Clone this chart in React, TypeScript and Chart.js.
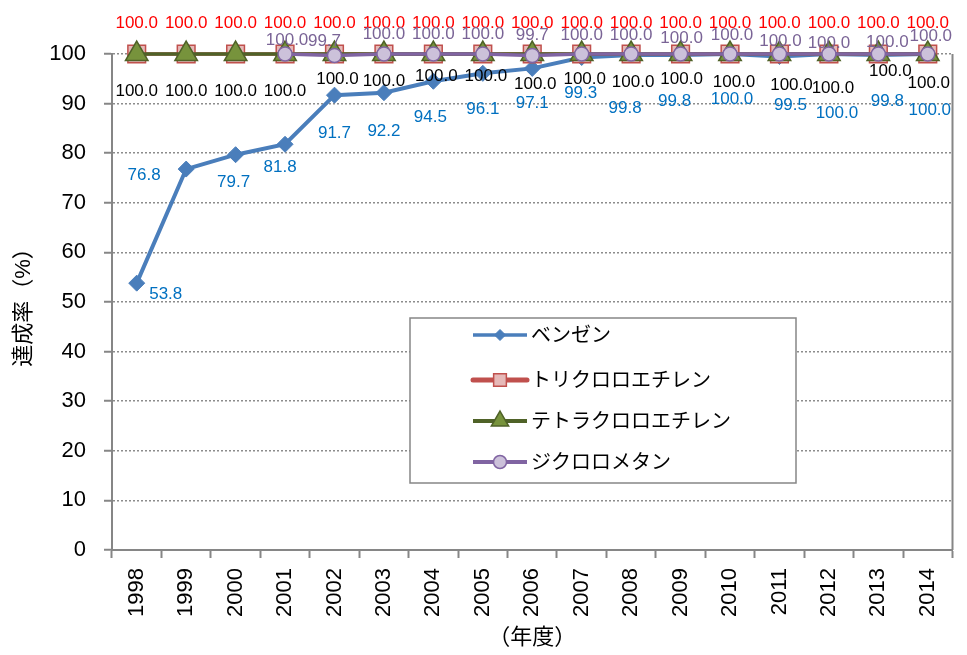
import React, { useEffect, useRef } from 'react';
import { Chart, registerables } from 'chart.js';
import { drawPoint } from 'chart.js/helpers';

Chart.register(...registerables);

const FONT = '"Liberation Sans", "Noto Sans CJK JP", sans-serif';

// ---- data ----
const years = ['1998', '1999', '2000', '2001', '2002', '2003', '2004', '2005', '2006', '2007', '2008', '2009', '2010', '2011', '2012', '2013', '2014'];
const seriesNames = ['ベンゼン', 'トリクロロエチレン', 'テトラクロロエチレン', 'ジクロロメタン'];
const benzene = [53.8, 76.8, 79.7, 81.8, 91.7, 92.2, 94.5, 96.1, 97.1, 99.3, 99.8, 99.8, 100.0, 99.5, 100.0, 99.8, 100.0];
const trichloroethylene = [100.0, 100.0, 100.0, 100.0, 100.0, 100.0, 100.0, 100.0, 100.0, 100.0, 100.0, 100.0, 100.0, 100.0, 100.0, 100.0, 100.0];
const tetrachloroethylene = [100.0, 100.0, 100.0, 100.0, 100.0, 100.0, 100.0, 100.0, 100.0, 100.0, 100.0, 100.0, 100.0, 100.0, 100.0, 100.0, 100.0];
const dichloromethane = [null, null, null, 100.0, 99.7, 100.0, 100.0, 100.0, 99.7, 100.0, 100.0, 100.0, 100.0, 100.0, 100.0, 100.0, 100.0];
const yTicks = [0, 10, 20, 30, 40, 50, 60, 70, 80, 90, 100];

// ---- label placement (pixel nudges of the value labels, relative to each point) ----
const benzeneLabelNudge = [[29, 11], [-42, 6], [-2, 28], [-5, 23], [0, 38], [0, 39], [-3, 36], [0, 36], [0, 35], [-1, 36], [-6, 53], [-6, 46], [2, 45], [11, 49], [8, 59], [9, 46], [2, 56]];
const trichloroLabelNudge = years.map(() => [0, -31]);
const tetrachloroLabelNudge = [[0, 37], [0, 37], [0, 37], [0, 37], [3, 25], [0, 27], [3, 22], [3, 22], [3, 30], [3, 25], [2, 28], [1, 25], [4, 28], [12, 31], [4, 34], [12, 17], [1, 29]];
const dichloroLabelNudge = [[0, 0], [0, 0], [0, 0], [2, -14], [-10, -14], [0, -20], [0, -20], [0, -20], [0, -20], [0, -19], [0, -19], [1, -16], [2, -19], [1, -13], [0, -11], [9, -12], [3, -18]];

const labelSpecs = [
  { index: 0, color: '#0070C0', nudge: benzeneLabelNudge },
  { index: 1, color: '#FF0000', nudge: trichloroLabelNudge },
  { index: 2, color: '#000000', nudge: tetrachloroLabelNudge },
  { index: 3, color: '#7A6496', nudge: dichloroLabelNudge },
];

const valueLabelPlugin = {
  id: 'valueLabels',
  afterDatasetsDraw(chart: any) {
    const ctx = chart.ctx;
    ctx.save();
    ctx.font = `17px ${FONT}`;
    ctx.textAlign = 'center';
    ctx.textBaseline = 'middle';
    labelSpecs.forEach((spec) => {
      const meta = chart.getDatasetMeta(spec.index);
      const data = chart.data.datasets[spec.index].data;
      meta.data.forEach((pt: any, i: number) => {
        const v = data[i];
        if (v == null) return;
        const [dx, dy] = spec.nudge[i];
        ctx.fillStyle = spec.color;
        ctx.fillText(Number(v).toFixed(1), pt.x + dx, pt.y + dy);
      });
    });
    ctx.restore();
  },
};

const frameAndLegendPlugin = {
  id: 'frameAndLegend',
  beforeDatasetsDraw(chart: any) {
    const { ctx, chartArea } = chart;
    ctx.save();
    ctx.strokeStyle = '#868686';
    ctx.lineWidth = 2;
    ctx.beginPath();
    ctx.moveTo(chartArea.right, chartArea.top);
    ctx.lineTo(chartArea.right, chartArea.bottom);
    ctx.stroke();
    ctx.restore();
  },
  afterDraw(chart: any) {
    const { ctx } = chart;
    const box = { x: 410, y: 318, w: 386, h: 165 };
    ctx.save();
    ctx.fillStyle = '#ffffff';
    ctx.fillRect(box.x, box.y, box.w, box.h);
    ctx.strokeStyle = '#868686';
    ctx.lineWidth = 1.5;
    ctx.strokeRect(box.x, box.y, box.w, box.h);
    const rows = [335, 380, 421, 462];
    const legendMarks = [
      { radius: 5.5, lineWidth: 3.5, cap: 'butt' },
      { radius: 9, lineWidth: 5, cap: 'round' },
      { radius: 10, lineWidth: 4, cap: 'butt' },
      { radius: 6.5, lineWidth: 4, cap: 'butt' },
    ];
    chart.data.datasets.forEach((ds: any, i: number) => {
      const y = rows[i];
      const m = legendMarks[i];
      ctx.strokeStyle = ds.borderColor;
      ctx.lineWidth = m.lineWidth;
      ctx.lineCap = m.cap;
      ctx.beginPath();
      ctx.moveTo(473, y);
      ctx.lineTo(527, y);
      ctx.stroke();
      ctx.lineCap = 'butt';
      ctx.fillStyle = ds.pointBackgroundColor;
      ctx.strokeStyle = ds.pointBorderColor;
      ctx.lineWidth = ds.pointBorderWidth;
      drawPoint(ctx, { pointStyle: ds.pointStyle, rotation: 0, radius: m.radius, borderWidth: ds.pointBorderWidth }, 500, y);
      ctx.fillStyle = '#000000';
      ctx.font = `20px ${FONT}`;
      ctx.textAlign = 'left';
      ctx.textBaseline = 'middle';
      ctx.fillText(ds.label, 531, y + 1);
    });
    ctx.restore();
  },
};

export default function App() {
  const canvasRef = useRef<HTMLCanvasElement | null>(null);

  useEffect(() => {
    const canvas = canvasRef.current;
    if (!canvas) return;
    const chart = new Chart(canvas, {
      type: 'line',
      data: {
        labels: years,
        datasets: [
          {
            label: seriesNames[0],
            data: benzene,
            borderColor: '#4A7EBB',
            backgroundColor: '#4A7EBB',
            borderWidth: 4,
            pointStyle: 'rectRot',
            pointRadius: 8,
            pointBackgroundColor: '#4A7EBB',
            pointBorderColor: '#4A7EBB',
            pointBorderWidth: 1,
            tension: 0,
            clip: false,
            order: 4,
          },
          {
            label: seriesNames[1],
            data: trichloroethylene,
            borderColor: '#C0504D',
            backgroundColor: '#E6B9B8',
            borderWidth: 3.5,
            pointStyle: 'rect',
            pointRadius: 12.5,
            pointBackgroundColor: '#E6B9B8',
            pointBorderColor: '#C0504D',
            pointBorderWidth: 1.5,
            tension: 0,
            clip: false,
            order: 3,
          },
          {
            label: seriesNames[2],
            data: tetrachloroethylene,
            borderColor: '#4F6228',
            backgroundColor: '#77933C',
            borderWidth: 3.5,
            pointStyle: 'triangle',
            pointRadius: 13,
            pointBackgroundColor: '#77933C',
            pointBorderColor: '#4F6228',
            pointBorderWidth: 1.5,
            tension: 0,
            clip: false,
            order: 2,
          },
          {
            label: seriesNames[3],
            data: dichloromethane,
            borderColor: '#8064A2',
            backgroundColor: '#CCC1DA',
            borderWidth: 3.5,
            pointStyle: 'circle',
            pointRadius: 7,
            pointBackgroundColor: '#CCC1DA',
            pointBorderColor: '#8064A2',
            pointBorderWidth: 1.5,
            tension: 0,
            clip: false,
            order: 1,
          },
        ],
      },
      options: {
        animation: false,
        responsive: false,
        devicePixelRatio: 1,
        layout: { padding: { top: 54, right: 2, left: 0, bottom: 0 } },
        plugins: {
          legend: { display: false },
          tooltip: { enabled: false },
        },
        scales: {
          x: {
            offset: true,
            grid: {
              offset: true,
              drawOnChartArea: false,
              drawTicks: true,
              tickLength: 8,
              tickColor: '#868686',
              tickWidth: 2,
            },
            border: { display: true, color: '#868686', width: 2 },
            ticks: {
              autoSkip: false,
              minRotation: 90,
              maxRotation: 90,
              padding: 10,
              color: '#000000',
              font: { family: FONT, size: 22 },
            },
            title: {
              display: true,
              text: '（年度）',
              color: '#000000',
              font: { family: FONT, size: 22 },
              padding: { top: 0, bottom: 4 },
            },
            afterFit: (scale: any) => {
              scale.height = 105;
            },
          },
          y: {
            min: 0,
            max: 100,
            afterBuildTicks: (scale: any) => {
              scale.ticks = yTicks.map((v) => ({ value: v }));
            },
            grid: {
              color: '#8C8C8C',
              lineWidth: 1.5,
              drawTicks: true,
              tickLength: 8,
              tickColor: '#868686',
              tickWidth: 2,
              tickBorderDash: [],
            },
            border: { display: true, color: '#868686', width: 2, dash: [2, 2] },
            ticks: {
              padding: 18,
              color: '#000000',
              font: { family: FONT, size: 22 },
            },
            title: {
              display: true,
              text: '達成率（%）',
              color: '#000000',
              font: { family: FONT, size: 22 },
              padding: { top: 11, bottom: 0 },
            },
            afterFit: (scale: any) => {
              scale.width = 112;
            },
          },
        },
      },
      plugins: [valueLabelPlugin, frameAndLegendPlugin],
    } as any);
    return () => chart.destroy();
  }, []);

  return (
    <div style={{ position: 'absolute', left: 0, top: 0, width: 967, height: 655, background: '#ffffff' }}>
      <canvas ref={canvasRef} width={967} height={655} style={{ display: 'block' }} />
    </div>
  );
}
